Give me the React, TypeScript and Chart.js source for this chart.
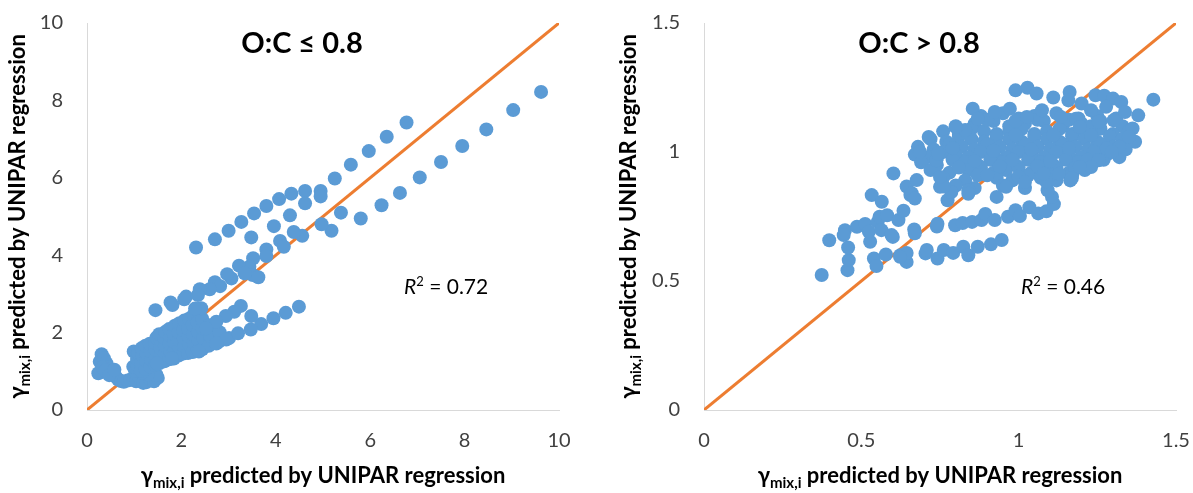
import React, { useEffect, useRef } from "react";
import { Chart, registerables } from "chart.js";

Chart.register(...registerables);

const FONT = 'Lato, "DejaVu Sans", sans-serif';

// ---------- Left panel: O:C <= 0.8 ----------
const leftTicks = [0, 2, 4, 6, 8, 10];
const leftDiagonal = [0, 10];

const leftUpperArm: [number, number][] = [
  [6.77, 7.43], [6.35, 7.06], [5.97, 6.69], [5.59, 6.34], [5.25, 5.98], [4.95, 5.66], [4.95, 5.52],
  [4.62, 5.66], [4.62, 5.34], [4.33, 5.59], [4.30, 5.03], [4.07, 5.45], [3.96, 4.75], [3.80, 5.27],
  [3.54, 5.08], [3.27, 4.86], [3.48, 4.46], [3.00, 4.63], [2.71, 4.41], [2.31, 4.20], [4.09, 4.37],
  [4.17, 4.22], [3.80, 4.15], [3.80, 3.98], [3.52, 3.92], [3.44, 3.70], [3.22, 3.73], [3.06, 3.40],
  [2.97, 3.51], [3.51, 3.49], [3.63, 3.43], [3.34, 3.53], [2.71, 3.30], [2.82, 3.20], [2.60, 3.12],
  [2.39, 3.12], [2.35, 2.97], [2.10, 2.93], [2.06, 2.86], [1.77, 2.78], [1.81, 2.71], [1.45, 2.58],
];

const leftLowerArm: [number, number][] = [
  [9.62, 8.22], [9.03, 7.75], [8.46, 7.25], [7.95, 6.82], [7.50, 6.41], [7.05, 6.01], [6.63, 5.61],
  [6.24, 5.29], [5.80, 4.95], [5.38, 5.10], [5.18, 4.63], [4.97, 4.80], [4.56, 4.50], [4.38, 4.60],
  [4.49, 2.67], [4.21, 2.51], [3.95, 2.37], [3.69, 2.22], [3.48, 2.43], [3.47, 2.08], [3.26, 2.69],
  [3.12, 2.54], [3.20, 1.98], [2.94, 2.43], [2.95, 1.82], [2.74, 2.28], [2.74, 1.72], [2.52, 2.11],
  [2.37, 1.51],
];

const leftHook: [number, number][] = [
  [0.24, 0.95], [0.27, 1.25], [0.31, 1.44], [0.36, 1.33], [0.41, 1.21], [0.45, 1.10], [0.50, 1.01],
  [0.55, 0.93], [0.61, 0.86], [0.66, 0.79], [0.72, 0.75], [0.78, 0.73], [0.86, 0.76], [0.92, 0.78],
  [0.99, 0.81], [1.04, 0.74], [1.11, 0.86], [1.19, 0.70], [1.26, 0.72], [1.34, 0.79], [1.42, 0.74],
  [1.50, 0.83], [1.47, 0.91], [1.29, 0.92], [1.16, 0.96], [1.02, 1.01], [0.98, 1.12], [1.06, 1.18],
  [0.99, 1.51], [0.33, 1.10], [0.39, 1.02], [0.47, 0.90], [0.58, 1.04],
];

const leftCluster: [number, number][] = [
  [1.06, 1.32], [1.08, 1.48], [1.14, 1.02], [1.15, 1.22], [1.17, 1.41], [1.16, 1.60], [1.24, 1.06],
  [1.25, 1.27], [1.26, 1.46], [1.24, 1.66], [1.34, 1.12], [1.36, 1.31], [1.35, 1.52], [1.33, 1.71],
  [1.44, 1.17], [1.46, 1.36], [1.45, 1.56], [1.44, 1.74], [1.47, 1.87], [1.54, 1.21], [1.56, 1.42],
  [1.55, 1.61], [1.56, 1.81], [1.53, 1.96], [1.64, 1.26], [1.66, 1.46], [1.65, 1.66], [1.64, 1.86],
  [1.66, 2.02], [1.74, 1.31], [1.76, 1.51], [1.75, 1.71], [1.76, 1.91], [1.74, 2.09], [1.84, 1.33],
  [1.86, 1.56], [1.85, 1.76], [1.84, 1.96], [1.86, 2.18], [1.94, 1.41], [1.96, 1.61], [1.95, 1.81],
  [1.94, 2.01], [1.96, 2.24], [2.04, 1.46], [2.06, 1.66], [2.05, 1.86], [2.04, 2.06], [2.06, 2.31],
  [2.14, 1.47], [2.16, 1.71], [2.15, 1.91], [2.14, 2.11], [2.16, 2.36], [2.24, 1.50], [2.26, 1.76],
  [2.25, 1.96], [2.24, 2.21], [2.26, 2.46], [2.34, 1.53], [2.36, 1.81], [2.35, 2.02], [2.34, 2.26],
  [2.36, 2.56], [2.44, 1.57], [2.46, 1.86], [2.45, 2.11], [2.44, 2.36], [2.42, 2.63], [2.58, 1.66],
  [2.61, 1.91], [2.59, 2.19], [2.79, 1.76], [2.81, 2.01], [3.01, 1.86], [1.48, 1.20], [1.80, 1.33],
  [2.29, 2.62],
];

// ---------- Right panel: O:C > 0.8 ----------
const rightTicks = [0, 0.5, 1, 1.5];
const rightDiagonal = [0, 1.5];

const rightLowerLeft: [number, number][] = [
  [0.374, 0.523], [0.398, 0.658], [0.456, 0.542], [0.460, 0.581], [0.458, 0.630], [0.448, 0.697],
  [0.444, 0.678], [0.486, 0.710], [0.512, 0.721], [0.528, 0.652], [0.524, 0.691], [0.540, 0.587],
  [0.548, 0.558], [0.552, 0.729], [0.564, 0.697], [0.578, 0.603], [0.558, 0.749], [0.582, 0.755],
  [0.600, 0.671], [0.618, 0.736], [0.634, 0.772], [0.624, 0.600], [0.644, 0.574], [0.644, 0.609],
  [0.668, 0.700], [0.670, 0.685], [0.533, 0.833], [0.565, 0.807], [0.602, 0.917], [0.644, 0.866],
  [0.660, 0.840], [0.670, 0.820], [0.676, 0.891], [0.596, 0.678], [0.623, 0.594],
];

const rightLowerBands: [number, number][] = [
  [0.704, 0.607], [0.708, 0.620], [0.742, 0.587], [0.762, 0.620], [0.792, 0.609], [0.824, 0.633],
  [0.840, 0.600], [0.870, 0.633], [0.912, 0.642], [0.946, 0.659],
  [0.740, 0.711], [0.742, 0.722], [0.798, 0.716], [0.822, 0.725], [0.852, 0.729], [0.882, 0.736],
  [0.894, 0.760], [0.924, 0.736], [0.966, 0.749], [0.990, 0.774], [1.004, 0.752], [1.034, 0.786],
  [1.062, 0.762], [1.088, 0.770], [1.112, 0.798], [1.106, 0.826], [1.092, 0.852], [1.087, 0.886],
  [1.080, 0.916], [1.169, 0.898],
  [0.930, 0.826], [0.960, 0.865], [1.020, 0.884], [0.774, 0.813], [0.786, 0.845], [0.840, 0.852],
  [0.840, 0.838], [0.750, 0.865], [0.762, 0.866], [0.750, 0.903], [0.656, 0.833],
];

const rightUpper: [number, number][] = [
  [0.714, 1.058], [0.738, 0.968], [0.744, 0.994], [0.686, 1.001], [0.800, 1.097], [0.854, 1.168],
  [0.870, 1.129], [0.924, 1.155], [0.972, 1.168], [0.990, 1.239], [1.028, 1.249], [1.057, 1.227],
  [1.110, 1.211], [1.162, 1.233], [1.158, 1.200], [1.200, 1.188], [1.244, 1.220], [1.272, 1.218],
  [1.300, 1.207], [1.326, 1.194], [1.428, 1.203], [1.380, 1.142], [1.338, 1.155], [1.362, 1.091],
  [1.350, 1.058], [1.320, 1.020], [1.296, 1.000], [1.254, 0.968], [1.230, 0.942], [1.194, 0.942],
  [1.164, 0.890], [1.128, 0.916], [1.134, 1.136], [1.074, 1.162], [1.026, 1.136], [1.182, 1.129],
  [1.230, 1.162], [1.278, 1.175], [1.302, 1.123], [1.254, 1.117], [1.194, 1.097],
];

const rightBlob: [number, number][] = [
  [0.88, 1.14], [0.95, 1.15], [1.00, 1.13], [1.05, 1.14], [1.12, 1.15], [1.19, 1.13], [1.25, 1.14], [1.31, 1.13],
  [0.80, 1.10], [0.86, 1.11], [0.92, 1.12], [0.97, 1.10], [1.02, 1.11], [1.08, 1.12], [1.14, 1.10], [1.20, 1.11],
  [1.26, 1.12], [1.33, 1.10],
  [0.76, 1.08], [0.81, 1.07], [0.85, 1.09], [0.89, 1.08], [0.93, 1.07], [0.97, 1.08], [1.01, 1.09], [1.05, 1.07],
  [1.09, 1.08], [1.13, 1.09], [1.17, 1.07], [1.21, 1.08], [1.26, 1.09], [1.30, 1.07], [1.35, 1.08],
  [0.72, 1.05], [0.77, 1.04], [0.81, 1.06], [0.85, 1.05], [0.89, 1.04], [0.93, 1.06], [0.97, 1.05], [1.01, 1.04],
  [1.05, 1.06], [1.09, 1.05], [1.13, 1.04], [1.17, 1.06], [1.21, 1.05], [1.25, 1.04], [1.29, 1.06], [1.33, 1.05],
  [1.37, 1.04],
  [0.68, 1.02], [0.73, 1.01], [0.78, 1.03], [0.82, 1.02], [0.86, 1.01], [0.90, 1.03], [0.94, 1.02], [0.98, 1.01],
  [1.02, 1.03], [1.06, 1.02], [1.10, 1.01], [1.14, 1.03], [1.18, 1.02], [1.22, 1.01], [1.26, 1.03], [1.30, 1.02],
  [1.34, 1.01],
  [0.67, 0.99], [0.71, 0.98], [0.76, 1.00], [0.80, 0.99], [0.84, 0.98], [0.88, 1.00], [0.92, 0.99], [0.96, 0.98],
  [1.00, 1.00], [1.04, 0.99], [1.08, 0.98], [1.12, 1.00], [1.16, 0.99], [1.20, 0.98], [1.24, 1.00], [1.28, 0.99],
  [1.32, 0.98],
  [0.69, 0.96], [0.74, 0.95], [0.79, 0.97], [0.83, 0.96], [0.87, 0.95], [0.91, 0.97], [0.95, 0.96], [0.99, 0.95],
  [1.03, 0.97], [1.07, 0.96], [1.11, 0.95], [1.15, 0.97], [1.19, 0.96], [1.23, 0.95], [1.27, 0.97],
  [0.72, 0.93], [0.78, 0.92], [0.84, 0.93], [0.88, 0.94], [0.92, 0.92], [0.96, 0.93], [1.00, 0.94], [1.04, 0.92],
  [1.08, 0.93], [1.12, 0.94], [1.16, 0.92], [1.21, 0.93],
  [0.76, 0.90], [0.83, 0.89], [0.87, 0.91], [0.93, 0.90], [0.98, 0.89], [1.03, 0.91], [1.07, 0.90], [1.12, 0.89],
  [1.17, 0.91],
  [0.80, 0.87], [0.86, 0.86], [0.95, 0.87], [1.02, 0.86],
  [0.90, 1.125], [0.99, 1.12], [1.06, 1.125], [1.16, 1.125], [1.23, 1.10], [0.83, 1.085], [0.99, 1.065],
  [1.11, 1.065], [1.23, 1.065], [0.79, 1.015], [0.92, 1.005], [1.04, 1.01], [1.16, 1.015], [1.28, 1.015],
  [0.74, 0.975], [0.86, 0.965], [0.98, 0.97], [1.10, 0.965], [1.22, 0.97], [0.81, 0.94], [0.94, 0.945],
  [1.06, 0.945], [1.18, 0.94], [0.90, 0.91], [1.00, 0.905], [1.10, 0.91],
];

const leftTitle = "O:C \u2264 0.8";
const rightTitle = "O:C > 0.8";
const leftR2 = "0.72";
const rightR2 = "0.46";

type PanelCfg = {
  points: [number, number][];
  diag: number[];
  ticks: number[];
  title: string;
  r2: string;
  padRight: number;
  yWidth: number;
  yTitleGap: number;
};

type Part = { t: string; f: string; dy: number };

function drawParts(ctx: CanvasRenderingContext2D, parts: Part[], startX: number, baseY: number) {
  let x = startX;
  for (const p of parts) {
    ctx.font = p.f;
    ctx.fillText(p.t, x, baseY + p.dy);
    x += ctx.measureText(p.t).width;
  }
}

function partsWidth(ctx: CanvasRenderingContext2D, parts: Part[]) {
  let w = 0;
  for (const p of parts) {
    ctx.font = p.f;
    w += ctx.measureText(p.t).width;
  }
  return w;
}

function makeChart(canvas: HTMLCanvasElement, cfg: PanelCfg) {
  const axisTitleParts: Part[] = [
    { t: "\u03B3", f: `bold 22px ${FONT}`, dy: 0 },
    { t: "mix,i", f: `bold 15px ${FONT}`, dy: 5 },
    { t: " predicted by UNIPAR regression", f: `bold 22px ${FONT}`, dy: 0 },
  ];
  const annot = {
    id: "annot",
    afterDraw(chart: any) {
      const ctx: CanvasRenderingContext2D = chart.ctx;
      const a = chart.chartArea;
      ctx.save();
      ctx.fillStyle = "#000";
      ctx.textBaseline = "alphabetic";
      ctx.textAlign = "center";
      ctx.font = `bold 29px ${FONT}`;
      ctx.fillText(cfg.title, a.left + 215, a.top + 30);
      ctx.textAlign = "left";
      const r2Parts: Part[] = [
        { t: "R", f: `italic 21px ${FONT}`, dy: 0 },
        { t: "2", f: `13px ${FONT}`, dy: -8 },
        { t: " = " + cfg.r2, f: `21px ${FONT}`, dy: 0 },
      ];
      drawParts(ctx, r2Parts, a.left + 317, a.top + 271);
      const w = partsWidth(ctx, axisTitleParts);
      const cx = (a.left + a.right) / 2;
      drawParts(ctx, axisTitleParts, cx - w / 2, 483);
      const cy = (a.top + a.bottom) / 2;
      ctx.translate(a.left - cfg.yTitleGap, cy);
      ctx.rotate(-Math.PI / 2);
      drawParts(ctx, axisTitleParts, -w / 2, 0);
      ctx.restore();
    },
  };

  const tickFont = { family: FONT, size: 20 };
  const fmt = (v: any) => String(v);
  return new Chart(canvas, {
    type: "scatter",
    data: {
      datasets: [
        {
          data: cfg.points.map(([x, y]) => ({ x, y })),
          backgroundColor: "#5B9BD5",
          borderWidth: 0,
          pointRadius: 7,
          pointHoverRadius: 7,
          order: 0,
        },
        {
          data: cfg.diag.map((v) => ({ x: v, y: v })),
          showLine: true,
          borderColor: "#ED7D31",
          borderWidth: 3,
          pointRadius: 0,
          order: 1,
        } as any,
      ],
    },
    options: {
      animation: false,
      responsive: false,
      events: [],
      layout: { padding: { left: 0, top: 23, right: cfg.padRight, bottom: 0 } },
      plugins: { legend: { display: false }, tooltip: { enabled: false } },
      scales: {
        x: {
          type: "linear",
          min: cfg.ticks[0],
          max: cfg.ticks[cfg.ticks.length - 1],
          afterBuildTicks: (s: any) => {
            s.ticks = cfg.ticks.map((v) => ({ value: v }));
          },
          afterFit: (s: any) => {
            s.height = 83;
            s.paddingLeft = 0;
            s.paddingRight = 0;
          },
          grid: { display: false, drawTicks: false },
          border: { display: true, color: "#D9D9D9", width: 1 },
          ticks: { padding: 19, font: tickFont, color: "#404040", maxRotation: 0, callback: fmt },
        },
        y: {
          type: "linear",
          min: cfg.ticks[0],
          max: cfg.ticks[cfg.ticks.length - 1],
          afterBuildTicks: (s: any) => {
            s.ticks = cfg.ticks.map((v) => ({ value: v }));
          },
          afterFit: (s: any) => {
            s.width = cfg.yWidth;
            s.paddingTop = 0;
            s.paddingBottom = 0;
          },
          grid: { display: false, drawTicks: false },
          border: { display: true, color: "#D9D9D9", width: 1 },
          ticks: { padding: 24, font: tickFont, color: "#404040", callback: fmt },
        },
      },
    } as any,
    plugins: [annot],
  });
}

function Panel({ cfg, left, width }: { cfg: PanelCfg; left: number; width: number }) {
  const ref = useRef<HTMLCanvasElement | null>(null);
  useEffect(() => {
    if (!ref.current) return;
    const chart = makeChart(ref.current, cfg);
    return () => chart.destroy();
  }, [cfg]);
  return (
    <canvas
      ref={ref}
      width={width}
      height={493}
      style={{ position: "absolute", left, top: 0, width, height: 493 }}
    />
  );
}

const leftCfg: PanelCfg = {
  points: [...leftHook, ...leftCluster, ...leftUpperArm, ...leftLowerArm],
  diag: leftDiagonal,
  ticks: leftTicks,
  title: leftTitle,
  r2: leftR2,
  padRight: 38,
  yWidth: 87,
  yTitleGap: 62,
};

const rightCfg: PanelCfg = {
  points: [...rightBlob, ...rightUpper, ...rightLowerBands, ...rightLowerLeft],
  diag: rightDiagonal,
  ticks: rightTicks,
  title: rightTitle,
  r2: rightR2,
  padRight: 17,
  yWidth: 107,
  yTitleGap: 68,
};

export default function App() {
  return (
    <div style={{ position: "absolute", left: 0, top: 0, width: 1193, height: 493, background: "#fff" }}>
      <Panel cfg={leftCfg} left={0} width={597} />
      <Panel cfg={rightCfg} left={597} width={596} />
    </div>
  );
}
